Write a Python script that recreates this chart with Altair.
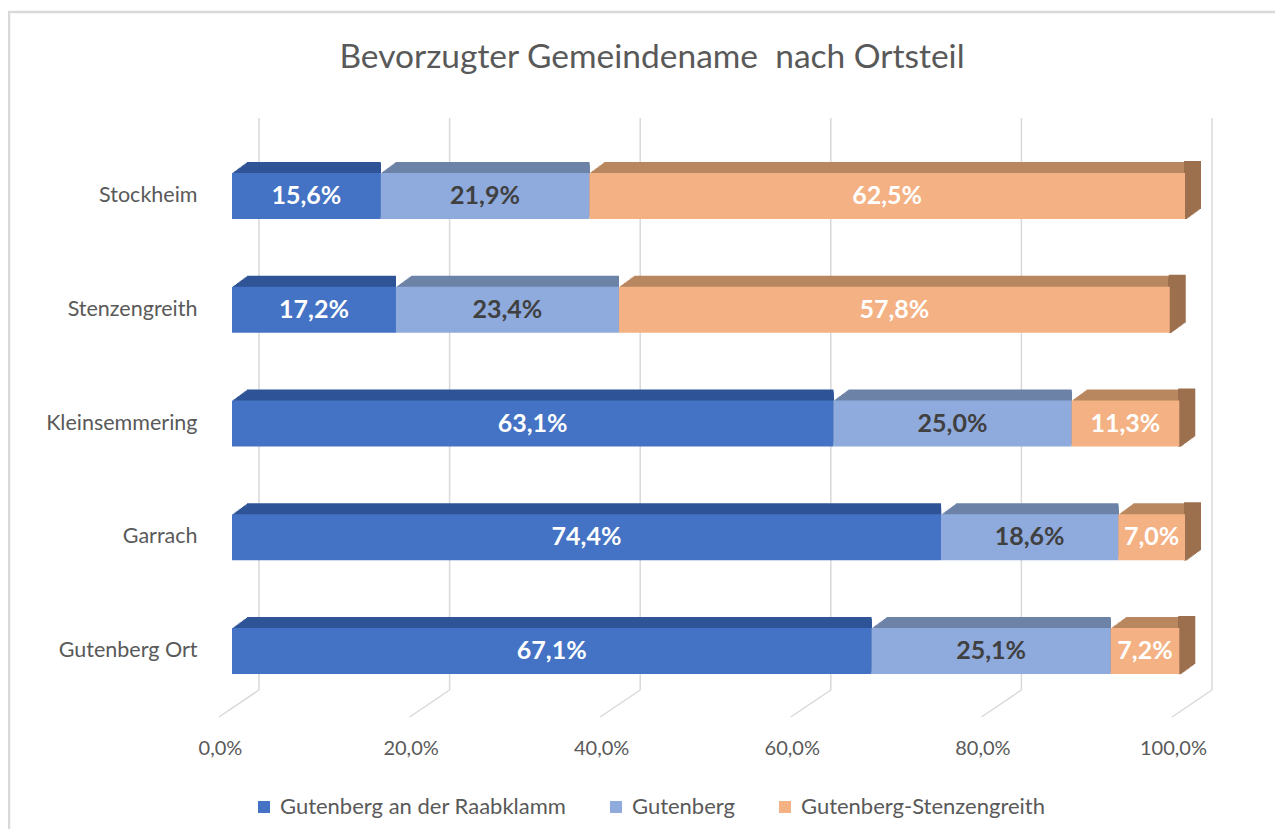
import altair as alt
import pandas as pd

ortsteile = ["Stockheim", "Stenzengreith", "Kleinsemmering", "Garrach", "Gutenberg Ort"]
namen = ["Gutenberg an der Raabklamm", "Gutenberg", "Gutenberg-Stenzengreith"]
raabklamm = [15.6, 17.2, 63.1, 74.4, 67.1]
gutenberg = [21.9, 23.4, 25.0, 18.6, 25.1]
stenzengreith = [62.5, 57.8, 11.3, 7.0, 7.2]
tick_values = [0, 20, 40, 60, 80, 100]
title_text = "Bevorzugter Gemeindename\u00a0 nach Ortsteil"

front_colors = ["#4472C4", "#8FAADC", "#F4B183"]
top_colors = ["#2F5597", "#6D82A7", "#B9875F"]
side_color = "#9C704E"
text_color = "#595959"
FONT = "Lato"

rows = []
for i, o in enumerate(ortsteile):
    for j, (n, vals) in enumerate(zip(namen, [raabklamm, gutenberg, stenzengreith])):
        rows.append({"Ortsteil": o, "Name": n, "idx": j, "value": vals[i]})
df = pd.DataFrame(rows)

base = alt.Chart(df).transform_stack(
    stack="value", as_=["x0", "x1"], groupby=["Ortsteil"],
    sort=[alt.SortField("idx", order="ascending")]
).transform_calculate(
    mid="(datum.x0 + datum.x1) / 2",
    label="replace(format(datum.value, '.1f'), '.', ',') + '%'"
)

xscale = alt.Scale(domain=[0, 100], nice=False, zero=True)
yscale = alt.Scale(domain=ortsteile, paddingInner=0.596, paddingOuter=0.298)

x_axis = alt.Axis(
    values=tick_values, grid=False, domain=False, ticks=False, tickSize=0,
    labelExpr="replace(format(datum.value, '.1f'), '.', ',') + '%'",
    labelFont=FONT, labelFontSize=20, labelColor=text_color,
    labelPadding=30, labelOffset=-12, labelFlush=False, title=None
)
y_axis = alt.Axis(
    domain=False, ticks=False, tickSize=0, labelFont=FONT, labelFontSize=21.5,
    labelColor=text_color, labelPadding=35, title=None
)

# chart frame
frame = alt.Chart(alt.Data(values=[{"a": 1}])).mark_rect(
    filled=False, stroke="#D9D9D9", strokeWidth=2.5
).encode(
    x=alt.value(-223), x2=alt.value(1500), y=alt.value(-127), y2=alt.value(1200)
)

title = alt.Chart(alt.Data(values=[{"t": title_text}])).mark_text(
    font=FONT, fontSize=33.5, color=text_color, align="center", baseline="middle"
).encode(
    text="t:N", x=alt.value(420), y=alt.value(-81)
)

grid_df = pd.DataFrame({"v": tick_values})
grid_back = alt.Chart(grid_df).mark_rule(
    color="#D9D9D9", strokeWidth=1.5, xOffset=27
).encode(
    x=alt.X("v:Q", scale=xscale, axis=x_axis),
    y=alt.value(-21), y2=alt.value(551)
)
grid_floor = alt.Chart(grid_df).mark_rule(
    color="#D9D9D9", strokeWidth=1.5, xOffset=27, x2Offset=-13
).encode(
    x=alt.X("v:Q", scale=xscale), x2="v:Q",
    y=alt.value(551), y2=alt.value(578)
)

N = 12
DX, DY = 15, -11
shadow_layers = []
for k in range(N, 0, -1):
    t = k / N
    shadow_layers.append(
        base.mark_bar(xOffset=DX * t, yOffset=DY * t, strokeWidth=0).encode(
            x=alt.X("x0:Q", scale=xscale),
            x2="x1:Q",
            y=alt.Y("Ortsteil:N", scale=yscale, sort=ortsteile),
            fill=alt.Fill("idx:O", scale=alt.Scale(domain=[0, 1, 2], range=top_colors), legend=None),
        )
    )
side_layers = []
for k in range(N, -1, -1):
    t = k / N
    side_layers.append(
        base.transform_filter(alt.datum.idx == 2).mark_bar(
            xOffset=DX * t, yOffset=DY * t, fillOpacity=0,
            stroke=side_color, strokeWidth=2
        ).encode(
            x=alt.X("x1:Q", scale=xscale),
            x2="x1:Q",
            y=alt.Y("Ortsteil:N", scale=yscale, sort=ortsteile),
        )
    )

front = base.mark_bar(strokeWidth=0).encode(
    x=alt.X("x0:Q", scale=xscale),
    x2="x1:Q",
    y=alt.Y("Ortsteil:N", scale=yscale, sort=ortsteile, axis=y_axis),
    color=alt.Color(
        "Name:N", scale=alt.Scale(domain=namen, range=front_colors),
        legend=alt.Legend(
            orient="none", legendX=21, legendY=657, direction="horizontal",
            title=None, symbolType="square", symbolSize=144, symbolStrokeWidth=0,
            labelFont=FONT, labelFontSize=22, labelColor=text_color,
            labelOffset=5, columnPadding=38, padding=0, labelLimit=400
        ),
        sort=namen,
    ),
)

labels = base.mark_text(
    font=FONT, fontSize=25, fontWeight="bold", baseline="middle", align="center"
).encode(
    x=alt.X("mid:Q", scale=xscale),
    y=alt.Y("Ortsteil:N", scale=yscale, sort=ortsteile),
    text="label:N",
    color=alt.condition(alt.datum.idx == 1, alt.value("#404040"), alt.value("white")),
)

chart = alt.layer(
    frame, title, grid_back, grid_floor, *shadow_layers, *side_layers, front, labels
).properties(
    width=953, height=569,
    autosize="none",
    padding={"left": 224, "top": 131, "right": 90, "bottom": 121},
).configure(background="white").configure_view(stroke="transparent", strokeWidth=0)

chart.save("out.html", embed_options={"renderer": "svg", "actions": False})
